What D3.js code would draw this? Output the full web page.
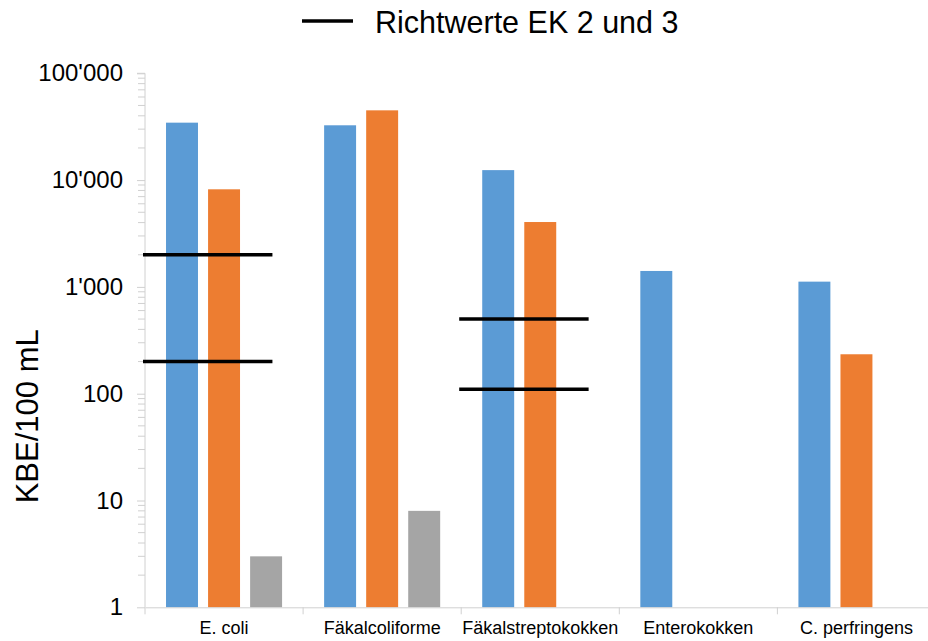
<!DOCTYPE html>
<html>
<head>
<meta charset="utf-8">
<script src="https://cdn.jsdelivr.net/npm/d3@7"></script>
<style>
  html, body { margin: 0; padding: 0; background: #fff; }
  svg { display: block; font-family: "Liberation Sans", Arial, sans-serif; }
</style>
</head>
<body>
<svg id="chart" width="928" height="641"></svg>
<script>
// Keimzahlen je Parameter (KBE/100 mL)
const categories = ["E. coli", "Fäkalcoliforme", "Fäkalstreptokokken", "Enterokokken", "C. perfringens"];
const seriesKeys = ["s1", "s2", "s3"];
const seriesColors = ["#5b9bd5", "#ed7d31", "#a5a5a5"];
const values1 = [34500, 32600, 12400, 1410, 1120];
const values2 = [8200, 45000, 4050, null, 234];
const values3 = [3, 8, null, null, null];

// Richtwerte EK 2 und 3
const richtwertKategorien = ["E. coli", "Fäkalstreptokokken"];
const richtwertOben = [2000, 500];
const richtwertUnten = [200, 110];
const legendLabel = "Richtwerte EK 2 und 3";

const yTickValues = [1, 10, 100, 1000, 10000, 100000];
const yTitle = "KBE/100 mL";

const svg = d3.select("#chart");
const plotLeft = 145, plotRight = 935.5, plotTop = 73.3, plotBottom = 607.3;

const x0 = d3.scaleBand().domain(categories).range([plotLeft, plotRight]).padding(0);
const x1 = d3.scaleBand().domain(seriesKeys).range([0, x0.bandwidth()])
  .paddingInner(0.24).paddingOuter(0.5);
const y = d3.scaleLog().domain([1, 100000]).range([plotBottom, plotTop]);

// Minor ticks on the log axis
const minorTicks = [];
for (let d = 1; d < 100000; d *= 10) {
  for (let k = 2; k <= 9; k++) minorTicks.push(d * k);
}
svg.append("g").selectAll("line").data(minorTicks).join("line")
  .attr("x1", plotLeft - 7).attr("x2", plotLeft)
  .attr("y1", d => y(d)).attr("y2", d => y(d))
  .attr("stroke", "#d0d0d0").attr("stroke-width", 1);

// Y axis
const fmt = d3.format(",");
const yAxis = d3.axisLeft(y).tickValues(yTickValues).tickSize(8).tickPadding(14)
  .tickFormat(d => fmt(d).replace(/,/g, "'"));
const gy = svg.append("g").attr("transform", `translate(${plotLeft},0)`).call(yAxis);
gy.select(".domain").attr("stroke", "#d0d0d0").attr("d", `M-8,${plotTop}H0V${plotBottom}`);
gy.selectAll(".tick line").attr("stroke", "#d0d0d0");
gy.selectAll(".tick text").attr("fill", "#000").attr("font-size", 24)
  .attr("font-family", "'Liberation Sans', Arial, sans-serif");

// Bars
const seriesValues = [values1, values2, values3];
const barData = [];
categories.forEach((c, i) => {
  seriesKeys.forEach((k, j) => {
    const v = seriesValues[j][i];
    if (v != null) barData.push({ c, k, v, color: seriesColors[j] });
  });
});
svg.append("g").selectAll("rect").data(barData).join("rect")
  .attr("x", d => x0(d.c) + x1(d.k))
  .attr("width", x1.bandwidth())
  .attr("y", d => y(d.v))
  .attr("height", d => y(1) - y(d.v))
  .attr("fill", d => d.color);

// X axis
const xAxis = d3.axisBottom(x0).tickSize(0).tickPadding(14);
const gx = svg.append("g").attr("transform", `translate(0,${plotBottom})`).call(xAxis);
gx.select(".domain").attr("stroke", "#d0d0d0").attr("stroke-width", 1);
gx.selectAll(".tick text").attr("fill", "#000").attr("font-size", 18)
  .attr("font-family", "'Liberation Sans', Arial, sans-serif");
// category separators
const sepPositions = categories.map(c => x0(c));
gx.append("g").selectAll("line").data(sepPositions).join("line")
  .attr("x1", d => d).attr("x2", d => d)
  .attr("y1", 0).attr("y2", 7)
  .attr("stroke", "#d0d0d0");

// Richtwert lines
const refLines = [];
richtwertKategorien.forEach((c, i) => {
  refLines.push({ c, v: richtwertOben[i] });
  refLines.push({ c, v: richtwertUnten[i] });
});
svg.append("g").selectAll("line").data(refLines).join("line")
  .attr("x1", d => x0(d.c) - 2)
  .attr("x2", d => x0(d.c) + x0.bandwidth() * 0.806)
  .attr("y1", d => y(d.v)).attr("y2", d => y(d.v))
  .attr("stroke", "#000").attr("stroke-width", 3.5);

// Legend
const legend = svg.append("g");
legend.append("line").attr("x1", 302).attr("x2", 353).attr("y1", 21).attr("y2", 21)
  .attr("stroke", "#000").attr("stroke-width", 3.5);
legend.append("text").attr("x", 375).attr("y", 33)
  .attr("font-size", 30.5).attr("fill", "#000").text(legendLabel);

// Y title
svg.append("text")
  .attr("transform", `translate(38,${(plotTop + plotBottom) / 2 + 76}) rotate(-90)`)
  .attr("text-anchor", "middle")
  .attr("font-size", 31).attr("fill", "#000")
  .text(yTitle);
</script>
</body>
</html>
